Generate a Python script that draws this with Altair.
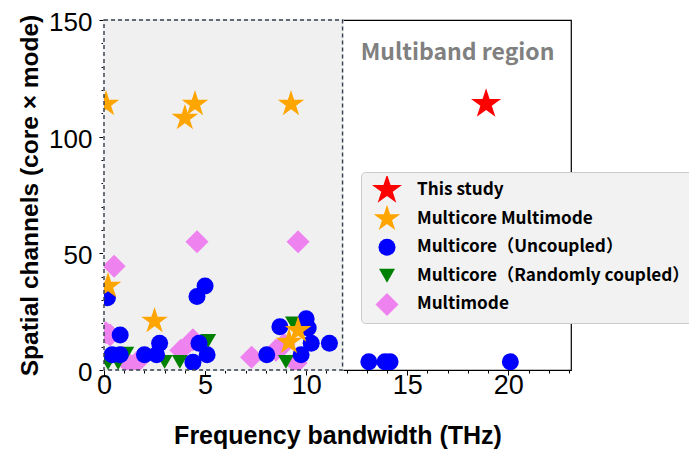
import altair as alt
import pandas as pd

# ---- data ----
series_names = ["This study", "Multicore Multimode", "Multicore（Uncoupled）",
                "Multicore（Randomly coupled）", "Multimode"]
series_colors = ["#FF0000", "#FFA500", "#0000FF", "#008000", "#EE82EE"]

this_x = [18.9]
this_y = [114]

mcmm_x = [0.1, 4.5, 4.0, 9.25, 0.2, 2.5, 9.6, 9.15]
mcmm_y = [114, 114, 108, 114, 36, 21, 17, 12]

unc_x = [0.17, 0.8, 0.4, 0.8, 2.0, 2.6, 2.75, 4.6, 5.0, 4.7, 5.1, 4.4,
         8.7, 8.05, 10.0, 10.1, 10.25, 11.15, 9.75, 13.1, 13.9, 14.15, 20.1]
unc_y = [31, 15, 6.5, 6.5, 6.5, 6.5, 11.5, 31.5, 36, 11.5, 6.5, 3.3,
         18.5, 6.5, 22, 18, 11.5, 11.5, 6.5, 3.5, 3.5, 3.5, 3.5]

rc_x = [0.2, 0.7, 1.1, 3.0, 3.75, 5.15, 9.0, 9.35]
rc_y = [3, 3, 7, 3.5, 3.5, 12.5, 3.5, 20]

mm_x = [0.5, 4.6, 9.6, 0.3, 4.4, 3.8, 7.3, 8.5, 9.5, 8.9, 0.1, 1.3, 1.7]
mm_y = [44.5, 55, 55, 15, 13, 8.5, 5.5, 8.5, 3, 11, 16, 2, 4]

region_x = [0, 11.8]
region_y = [0, 150]
label_text = ["Multiband region"]
label_x = [12.7]
label_y = [133]

x_major = [0, 5, 10, 15, 20]
x_minor = list(range(0, 24))
y_major = [0, 50, 100, 150]
y_minor = list(range(0, 151, 10))

# ---- tables ----
rows = []
draw_rank = {"Multimode": 0, "Multicore（Randomly coupled）": 1,
             "Multicore（Uncoupled）": 2, "Multicore Multimode": 3, "This study": 4}
for name, xs, ys in [
    ("Multimode", mm_x, mm_y),
    ("Multicore（Randomly coupled）", rc_x, rc_y),
    ("Multicore（Uncoupled）", unc_x, unc_y),
    ("Multicore Multimode", mcmm_x, mcmm_y),
    ("This study", this_x, this_y),
]:
    for xv, yv in zip(xs, ys):
        rows.append({"x": xv, "y": yv, "series": name, "rank": draw_rank[name]})
pts = pd.DataFrame(rows)

region = pd.DataFrame({"x": [region_x[0]], "x2": [region_x[1]],
                       "y": [region_y[0]], "y2": [region_y[1]]})
label = pd.DataFrame({"x": label_x, "y": label_y, "t": label_text})

STAR = ("M0,-1L0.2245,-0.309L0.951,-0.309L0.363,0.118L0.588,0.809L0,0.382"
        "L-0.588,0.809L-0.363,0.118L-0.951,-0.309L-0.2245,-0.309Z")
shapes = [STAR, STAR, "circle", "triangle-down", "diamond"]
sizes = [1000, 780, 289, 256, 529]

xscale = alt.Scale(domain=[0, 23.1], nice=False, zero=False)
yscale = alt.Scale(domain=[0, 150], nice=False)

lab_font = "Liberation Sans"

leg = alt.Legend(
    title=None, orient="none", legendX=257, legendY=152,
    fillColor="#f2f2f2", strokeColor="#cccccc", cornerRadius=4, padding=4,
    labelFont="Noto Sans CJK JP", labelFontWeight="bold", labelFontSize=17.2,
    labelColor="black", labelOffset=14, rowPadding=0.6, clipHeight=28,
    symbolOffset=6, symbolOpacity=1, symbolStrokeWidth=0, labelLimit=400,
)

x_main_axis = alt.Axis(values=x_major, tickSize=5, labelFontSize=27, labelFont=lab_font,
                       labelColor="black", tickColor="black", domainColor="black",
                       labelPadding=-3, labelFlush=False, grid=False, orient="bottom",
                       title="Frequency bandwidth (THz)", titleFont=lab_font,
                       titleFontSize=25, titleFontWeight="bold", titleColor="black",
                       titlePadding=25)
y_main_axis = alt.Axis(values=y_major, tickSize=5, labelFontSize=26, labelFont=lab_font,
                       labelColor="black", tickColor="black", domainColor="black",
                       labelPadding=7, labelOffset=2.5, labelFlush=False, grid=False,
                       orient="left",
                       title="Spatial channels (core × mode)", titleFont=lab_font,
                       titleFontSize=24.5, titleFontWeight="bold", titleColor="black",
                       titlePadding=6)
x_minor_axis = alt.Axis(values=x_minor, tickSize=3, labels=False, domain=False,
                        grid=False, title=None, orient="bottom", tickColor="black")
y_minor_axis = alt.Axis(values=y_minor, tickSize=3, labels=False, domain=False,
                        grid=False, title=None, orient="left", tickColor="black")

cover = alt.Chart(region).mark_rect(fill="#f0f0f0", stroke="#f0f0f0", strokeWidth=2).encode(
    x=alt.X("x:Q", scale=xscale, axis=None), x2="x2:Q",
    y=alt.Y("y:Q", scale=yscale, axis=None), y2="y2:Q")

dashed = alt.Chart(region).mark_rect(fillOpacity=0, stroke="#34404e", strokeWidth=1.4,
                                     strokeDash=[4, 3]).encode(
    x=alt.X("x:Q", scale=xscale, axis=None), x2="x2:Q",
    y=alt.Y("y:Q", scale=yscale, axis=None), y2="y2:Q")

minor = alt.Chart(region).mark_point(opacity=0).encode(
    x=alt.X("x:Q", scale=xscale, axis=x_minor_axis),
    y=alt.Y("y:Q", scale=yscale, axis=y_minor_axis))

points = alt.Chart(pts).mark_point(filled=True, opacity=1, strokeWidth=0, clip=True).encode(
    x=alt.X("x:Q", scale=xscale, axis=x_main_axis),
    y=alt.Y("y:Q", scale=yscale, axis=y_main_axis),
    color=alt.Color("series:N", scale=alt.Scale(domain=series_names, range=series_colors), legend=leg),
    shape=alt.Shape("series:N", scale=alt.Scale(domain=series_names, range=shapes), legend=leg),
    size=alt.Size("series:N", scale=alt.Scale(type="ordinal", domain=series_names, range=sizes), legend=leg),
    order=alt.Order("rank:Q"),
)

text = alt.Chart(label).mark_text(align="left", baseline="alphabetic", font="Noto Sans CJK JP",
                                   fontWeight="bold", fontSize=23, color="#808080").encode(
    x=alt.X("x:Q", scale=xscale, axis=None),
    y=alt.Y("y:Q", scale=yscale, axis=None),
    text="t:N")

chart = alt.layer(cover, minor, points, dashed, text).resolve_axis(
    x="independent", y="independent"
).properties(
    width=467, height=350,
    autosize=alt.AutoSizeParams(type="none"),
    padding={"left": 96, "top": 12, "right": 118, "bottom": 92},
).configure_view(stroke="black", strokeWidth=1.2)

chart.save("out.html", embed_options={"renderer": "svg", "actions": False})
